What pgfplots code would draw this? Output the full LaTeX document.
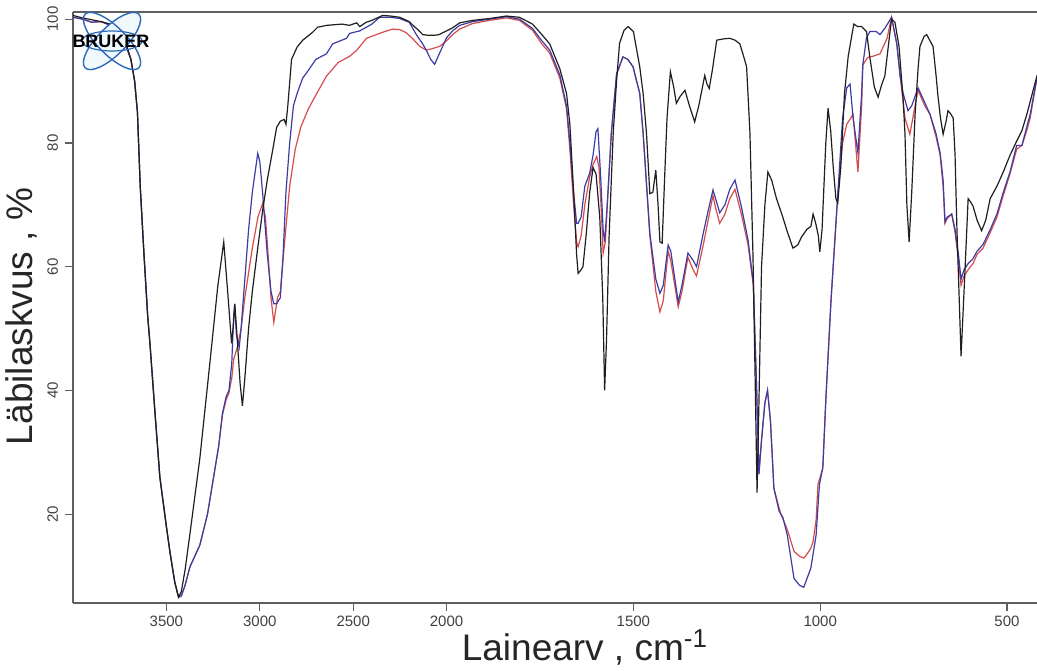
\documentclass[border=0pt]{standalone}
\usepackage{fontspec}
\setmainfont{Liberation Sans}
\usepackage{pgfplots}
\pgfplotsset{compat=1.18}
\definecolor{cblack}{RGB}{30,30,35}
\definecolor{cblue}{RGB}{60,60,165}
\definecolor{cred}{RGB}{215,75,75}
\definecolor{axgray}{RGB}{95,95,95}
\definecolor{logoblue}{RGB}{45,105,185}
\begin{document}
\begin{tikzpicture}
\begin{axis}[
  at={(0,0)}, anchor=south west,
  scale only axis, width=482pt, height=295.5pt,
  x coord trafo/.code={\pgfmathparse{#1-max(#1-2000,0)/2}},
  x dir=reverse,
  xmin=419.7, xmax=4000, ymin=5.7, ymax=101.2,
  axis y line*=left,
  xtick pos=bottom,
  xtick={3500,3000,2500,2000,1500,1000,500},
  xticklabels={3500,3000,2500,2000,1500,1000,500},
  ytick={20,40,60,80,100},
  /pgf/number format/assume math mode=true,
  tick align=outside,
  major tick length=4pt,
  tick style={axgray, line width=0.6pt},
  axis line style={axgray, line width=0.8pt},
  ticklabel style={font=\fontsize{7.5}{9}\selectfont, text=black!75},
  xticklabel style={inner sep=0.8pt, yshift=-1.6pt},
  yticklabel style={rotate=90, anchor=south},
  xlabel={Lainearv , cm\textsuperscript{-1}},
  ylabel={Läbilaskvus , \%},
  xlabel style={at={(axis description cs:0.531,-0.0755)}, anchor=center, inner sep=0pt, font=\fontsize{18.5}{22}\selectfont, text=black!85},
  ylabel style={at={(axis description cs:-0.0534,0.4843)}, anchor=center, inner sep=0pt, font=\fontsize{18.5}{22}\selectfont, text=black!85},
  every axis plot/.append style={line width=0.6pt, mark=none},
]
% red
\addplot[cred] coordinates {
(4000,100.3)(3950,100)(3900,99.5)(3850,99.6)(3800,99)(3760,98)(3720,96)(3690,93.5)(3670,90)(3655,85)(3640,73)(3620,62)(3600,52)(3588,47.6)(3560,36)(3535,26)(3500,18)(3480,13.7)(3455,9)(3435,6.6)(3420,6.8)
(3400,8.5)(3374,11.5)(3321,15)(3280,20)(3250,25.5)(3220,31)(3200,36)(3180,38.5)(3165,39.6)(3150,42)(3140,45)(3120,47)(3100,50)(3080,55)(3040,63)(3010,68)(2985,70.2)(2970,68)(2960,64)(2940,55)(2925,51)(2905,55)(2890,56)(2870,63)(2840,73)(2810,79)(2780,82.6)(2740,85.5)(2695,88)(2643,90.8)(2580,93)(2519,94)(2480,95)(2429,96.9)(2350,97.8)(2289,98.4)(2250,98.3)(2216,97.8)(2180,96.8)(2144,95.6)(2109,95)(2080,95.2)(2037,95.6)(2000,96.5)
(1984,97.5)(1965,98.4)(1930,99.3)(1885,99.8)(1840,100.2)(1805,99.8)(1770,98.2)(1745,96)(1724,94.5)(1697,90.5)(1679,85.5)(1670,79)(1660,70)(1652,64)(1648,63.2)(1640,65)(1630,70)(1617,74.5)(1608,76.5)(1598,77.8)(1592,76)(1585,68)(1581,62.2)(1575,64)(1568,72)(1559,81.6)(1545,91)(1528,93.9)(1515,93.5)(1501,92.3)(1483,88)(1474,81.6)(1456,65)(1440,56)(1429,52.7)(1420,54.5)(1407,62.5)(1400,61)(1380,53.5)(1370,56)(1354,61.5)(1340,59.5)(1331,58.5)(1313,63.5)(1300,67.5)(1287,71.5)(1280,69.5)(1269,67)(1255,68.5)(1242,71)(1228,72.5)(1211,68.5)(1193,63.5)(1179,57)(1170,40)(1164,26.5)(1157,32)(1148,38)(1141,40)(1133,35)(1124,24.2)(1110,21)(1105,20)(1088,17.5)(1070,14)(1055,13.2)(1044,12.9)(1036,13.5)(1025,14.5)(1019,15.6)(1011,19)(1006,24.8)(993,27.5)(985,38.4)(975,50)(971,54.6)(960,65)(953,71.6)(940,80)(929,83)(912,84.6)(899,75.3)(889,86)(886,92.6)(873,93.8)(859,94)(840,94.4)(821,96.9)(809,100.3)(795,96)(786,90.8)(773,84)(760,81.4)(746,86)(738,88.5)(720,86)(706,84.6)(690,81)(679,78)(671,73)(666,67)(660,67.8)(648,68.5)(639,65.5)(630,61)(623,57)(615,58.5)(604,59.5)(591,60.5)(580,62)(564,63)(545,65.5)(527,68)(510,71.5)(492,75)(474,79)(460,79.6)(447,82)(438,84)(419,90.8)
};
% blue
\addplot[cblue] coordinates {
(4000,100.3)(3950,100)(3900,99.5)(3850,99.6)(3800,99)(3760,98)(3720,96)(3690,93.5)(3670,90)(3655,85)(3640,73)(3620,62)(3600,52)(3588,47.6)(3560,36)(3535,26)(3500,18)(3480,13.7)(3455,9)(3435,6.6)(3420,6.8)
(3400,8.5)(3374,11.5)(3321,15)(3280,20)(3250,25.5)(3220,31)(3200,36.3)(3180,39)(3165,40)(3150,44.4)(3140,52)(3134,54)(3125,49)(3110,47)(3100,50)(3080,58)(3060,66)(3040,72)(3011,78.3)(3000,77)(2985,72)(2960,62)(2940,56)(2925,54)(2910,54)(2890,55)(2875,62)(2860,72)(2840,80)(2820,86)(2800,88)(2770,90.5)(2750,91.3)(2700,93.5)(2643,94.4)(2610,96)(2536,96.9)(2519,97.7)(2465,98.1)(2400,99.2)(2358,100.3)(2300,100.3)(2251,100.1)(2200,99.5)(2162,97.5)(2128,96)(2109,95)(2085,93.5)(2064,92.7)(2045,94)(2021,95.6)(2000,97)
(1984,98.1)(1965,99)(1930,99.6)(1885,100)(1840,100.4)(1805,100)(1770,98.5)(1745,96.5)(1724,95)(1697,91)(1679,86)(1670,80)(1660,72)(1652,67)(1648,67)(1640,68)(1630,73)(1617,75.1)(1608,78)(1600,81.8)(1595,82.3)(1588,75)(1581,66)(1577,64)(1570,70)(1559,81.6)(1545,91.2)(1528,93.9)(1515,93.5)(1501,92.3)(1483,88)(1474,81.6)(1456,65.4)(1440,58)(1429,55.7)(1420,57)(1407,63.5)(1400,62.5)(1380,54.3)(1370,57)(1354,62.2)(1340,61)(1331,60)(1313,65.4)(1300,69)(1287,72.4)(1280,71)(1269,68.7)(1255,70)(1242,72.5)(1228,74)(1211,69.7)(1193,64.3)(1179,57.3)(1170,40)(1164,26.5)(1157,32)(1148,38)(1141,40)(1133,35)(1124,24.2)(1110,20.5)(1100,19.5)(1088,16.6)(1070,9.6)(1055,8.5)(1044,8.2)(1036,9.5)(1025,11.3)(1011,16.6)(1002,24.8)(993,27.5)(985,38.4)(975,50)(971,54.6)(960,65)(953,71.6)(940,84)(929,88.9)(920,89.5)(912,84)(899,78.4)(889,88)(886,92.6)(876,97)(867,98)(850,98)(840,97.5)(827,98.5)(809,100.3)(795,96)(786,90.8)(778,88)(765,85.2)(755,86)(738,88.9)(720,86.5)(706,84.6)(690,81.5)(679,78.4)(671,74)(666,67.3)(660,68)(648,68.5)(639,66)(630,62)(623,58)(615,59.5)(604,60.5)(591,61.3)(580,62.5)(564,63.6)(545,66)(527,68.5)(510,72)(492,75.3)(474,79.6)(460,79.6)(447,82.6)(438,84.6)(419,90.8)
};
% black
\addplot[cblack] coordinates {
(4000,100.6)(3950,100.2)(3900,99.9)(3850,99.6)(3800,99.2)(3760,98.5)(3720,96.5)(3690,93.5)(3670,90)(3655,85)(3640,73)(3620,62)(3600,52)(3588,47.6)(3560,36)(3535,26)(3500,18)(3480,13.7)(3455,9)(3435,6.6)(3420,7.5)(3400,11)(3374,16.8)(3321,29)(3267,44.5)(3225,56.8)(3193,64)(3172,56)(3151,47.6)(3140,51)(3134,54)(3120,48)(3105,41)(3093,37.5)(3080,42)(3060,50)(3040,56)(3011,63)(2985,69)(2960,74)(2930,79)(2910,82.5)(2890,83.5)(2870,83.8)(2860,83)(2850,86)(2830,93.5)(2800,95.5)(2770,96.6)(2720,97.8)(2690,98.7)(2640,99)(2600,99.1)(2560,99.2)(2520,99)(2481,99.4)(2465,98.8)(2430,99.5)(2400,99.8)(2342,100.6)(2300,100.5)(2251,100.3)(2200,99.6)(2180,99)(2150,98.2)(2128,97.5)(2100,97.4)(2064,97.4)(2040,97.5)(2021,97.8)(2000,98.1)
(1984,98.6)(1965,99.4)(1930,99.8)(1885,100.1)(1840,100.5)(1805,100.3)(1770,99.2)(1745,97.5)(1724,96)(1697,92)(1679,88)(1670,83)(1660,72)(1652,62)(1648,58.9)(1640,59.5)(1635,60)(1626,65.4)(1617,72)(1608,76)(1600,75)(1590,68)(1582,55)(1577,40)(1572,48)(1565,65)(1554,81.6)(1545,90)(1537,96.1)(1525,98.2)(1514,98.8)(1500,98)(1483,92.3)(1474,88)(1465,81.6)(1456,71.8)(1448,72)(1440,75.6)(1434,70)(1429,64)(1423,63.8)(1416,75)(1410,84)(1401,91.5)(1392,89)(1385,86.4)(1375,87.5)(1362,88.5)(1350,86)(1336,83.4)(1325,86)(1309,90.9)(1303,89.5)(1297,88.8)(1288,92)(1277,96.6)(1260,96.8)(1242,96.9)(1228,96.6)(1215,96)(1205,94)(1197,92.3)(1188,81.6)(1180,62)(1175,45)(1169,23.5)(1164,38)(1157,60)(1148,70)(1140,75.3)(1130,74)(1117,71)(1100,68)(1090,66)(1073,63)(1060,63.5)(1050,64.8)(1036,66)(1025,66.5)(1019,68.5)(1012,67)(1005,65)(1001,62.4)(995,66)(985,80)(979,85.6)(972,82)(965,76)(958,71)(953,70.3)(945,76)(935,88)(925,94)(915,97.5)(910,99.2)(900,98.8)(889,98.8)(876,98)(867,93.8)(855,89)(845,87.4)(835,89.5)(827,90.8)(815,97)(809,100)(800,99.5)(789,95.6)(778,87)(773,81.4)(768,70)(762,64)(755,72)(746,84.6)(738,92)(733,95.6)(722,97.2)(715,97.5)(706,96.5)(698,95.6)(690,91)(685,87.7)(678,84)(671,81.4)(663,83.5)(658,85.2)(652,84.8)(644,84)(639,78)(634,66)(628,55)(623,45.5)(618,52)(612,60)(604,71)(598,70.5)(591,69.8)(580,67.5)(568,65.8)(557,67.5)(545,71)(527,73)(510,75.3)(492,78)(474,80.3)(460,82)(447,84.6)(430,88.5)(419,91)
};
\end{axis}
% BRUKER logo
\begin{scope}[shift={(19.5pt,280.85pt)}]
  \draw[logoblue, line width=0.7pt, fill=cyan!6] (0,0) ellipse [x radius=19pt, y radius=7pt, rotate=45];
  \draw[logoblue, line width=0.7pt] (0,0) ellipse [x radius=19pt, y radius=7pt, rotate=-45];
  \draw[logoblue, line width=0.6pt] (0,0) ellipse [x radius=15pt, y radius=5pt];
  \node[font=\bfseries\fontsize{9}{9}\selectfont, text=black, inner sep=0pt] at (-0.5pt,0) {BRUKER};
\end{scope}
\pgfresetboundingbox
\path[use as bounding box] (-36.5pt,-33.65pt) rectangle (482pt,301.35pt);
\end{tikzpicture}
\end{document}
